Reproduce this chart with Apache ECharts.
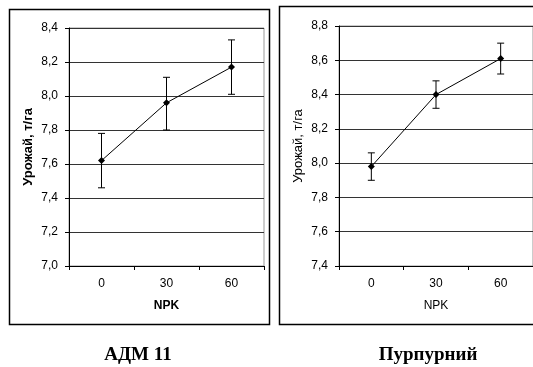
<!DOCTYPE html>
<html><head><meta charset="utf-8">
<script src="https://cdn.jsdelivr.net/npm/echarts@6/dist/echarts.min.js"></script>
<style>html,body{margin:0;padding:0;background:#fff}#c{width:533px;height:367px}</style>
</head><body><div id="c"></div>
<script>
var categories = ['0', '30', '60'];
var adm11Mean = [7.62, 7.96, 8.17];
var adm11Low = [7.46, 7.80, 8.01];
var adm11High = [7.78, 8.11, 8.33];
var purpMean = [7.98, 8.40, 8.61];
var purpLow = [7.90, 8.32, 8.52];
var purpHigh = [8.06, 8.48, 8.70];
var yTicksLeft = [7.0, 8.4, 0.2];
var yTicksRight = [7.4, 8.8, 0.2];
var titles = ['АДМ 11', 'Пурпурний'];
var yName = 'Урожай, т/га';
var xName = 'NPK';

var FONT = 'Liberation Sans, Arial, sans-serif';
function errRender(params, api) {
  var x = api.value(0), lo = api.value(1), hi = api.value(2);
  var p1 = api.coord([x, lo]), p2 = api.coord([x, hi]);
  var w = 3.5;
  var st = {stroke: '#000', lineWidth: 1};
  return {type: 'group', children: [
    {type: 'line', shape: {x1: p1[0], y1: p1[1], x2: p2[0], y2: p2[1]}, style: st},
    {type: 'line', shape: {x1: p1[0]-w, y1: p1[1], x2: p1[0]+w, y2: p1[1]}, style: st},
    {type: 'line', shape: {x1: p2[0]-w, y1: p2[1], x2: p2[0]+w, y2: p2[1]}, style: st}
  ]};
}
function errData(lo, hi) { return categories.map(function (c, i) { return [i, lo[i], hi[i]]; }); }
function fmt(v) { return v.toFixed(1).replace('.', ','); }
function yAxis(idx, t, bold) {
  return {gridIndex: idx, type: 'value', min: t[0], max: t[1], interval: t[2],
    name: yName, nameLocation: 'middle', nameGap: 34, nameRotate: 90,
    nameTextStyle: {fontFamily: FONT, fontSize: 13, color: '#000', fontWeight: bold ? 'bold' : 'normal'},
    axisLine: {show: true, lineStyle: {color: '#000', width: 1}},
    axisTick: {show: true, length: 4, lineStyle: {color: '#000'}},
    axisLabel: {fontFamily: FONT, fontSize: 12, color: '#000', margin: 11, formatter: fmt},
    splitLine: {show: true, lineStyle: {color: '#333', width: 1}}};
}
function xAxis(idx, bold) {
  return {gridIndex: idx, type: 'category', data: categories, boundaryGap: true,
    name: xName, nameLocation: 'middle', nameGap: 34,
    nameTextStyle: {fontFamily: FONT, fontSize: 12, color: '#000', fontWeight: bold ? 'bold' : 'normal'},
    axisLine: {show: true, lineStyle: {color: '#000', width: 1}},
    axisTick: {show: true, length: 4, lineStyle: {color: '#000'}},
    axisLabel: {fontFamily: FONT, fontSize: 12, color: '#000', margin: 12}};
}
var chart = echarts.init(document.getElementById('c'), null, {renderer: 'canvas'});
chart.setOption({
  animation: false,
  backgroundColor: '#fff',
  graphic: [
    {type: 'rect', shape: {x: 9.5, y: 9.5, width: 260, height: 315}, style: {fill: 'none', stroke: '#000', lineWidth: 1.5}},
    {type: 'rect', shape: {x: 279.5, y: 6.5, width: 270, height: 318}, style: {fill: 'none', stroke: '#000', lineWidth: 1.5}},
    {type: 'text', x: 138, y: 355, style: {text: titles[0], font: 'bold 19px "Liberation Serif", "Times New Roman", serif', fill: '#000', textAlign: 'center', textVerticalAlign: 'middle'}},
    {type: 'text', x: 428, y: 355, style: {text: titles[1], font: 'bold 19px "Liberation Serif", "Times New Roman", serif', fill: '#000', textAlign: 'center', textVerticalAlign: 'middle'}}
  ],
  grid: [
    {left: 69, top: 28, width: 195, height: 238, show: true, borderColor: '#999', borderWidth: 1},
    {left: 339, top: 26, width: 198, height: 240, show: true, borderColor: '#999', borderWidth: 1}
  ],
  xAxis: [xAxis(0, true), xAxis(1, false)],
  yAxis: [yAxis(0, yTicksLeft, true), yAxis(1, yTicksRight, false)],
  series: [
    {type: 'custom', xAxisIndex: 0, yAxisIndex: 0, renderItem: errRender, data: errData(adm11Low, adm11High), z: 3},
    {type: 'line', xAxisIndex: 0, yAxisIndex: 0, data: adm11Mean, symbol: 'diamond', symbolSize: 7,
      itemStyle: {color: '#000'}, lineStyle: {color: '#000', width: 1}, z: 4},
    {type: 'custom', xAxisIndex: 1, yAxisIndex: 1, renderItem: errRender, data: errData(purpLow, purpHigh), z: 3},
    {type: 'line', xAxisIndex: 1, yAxisIndex: 1, data: purpMean, symbol: 'diamond', symbolSize: 7,
      itemStyle: {color: '#000'}, lineStyle: {color: '#000', width: 1}, z: 4}
  ]
});
</script></body></html>
